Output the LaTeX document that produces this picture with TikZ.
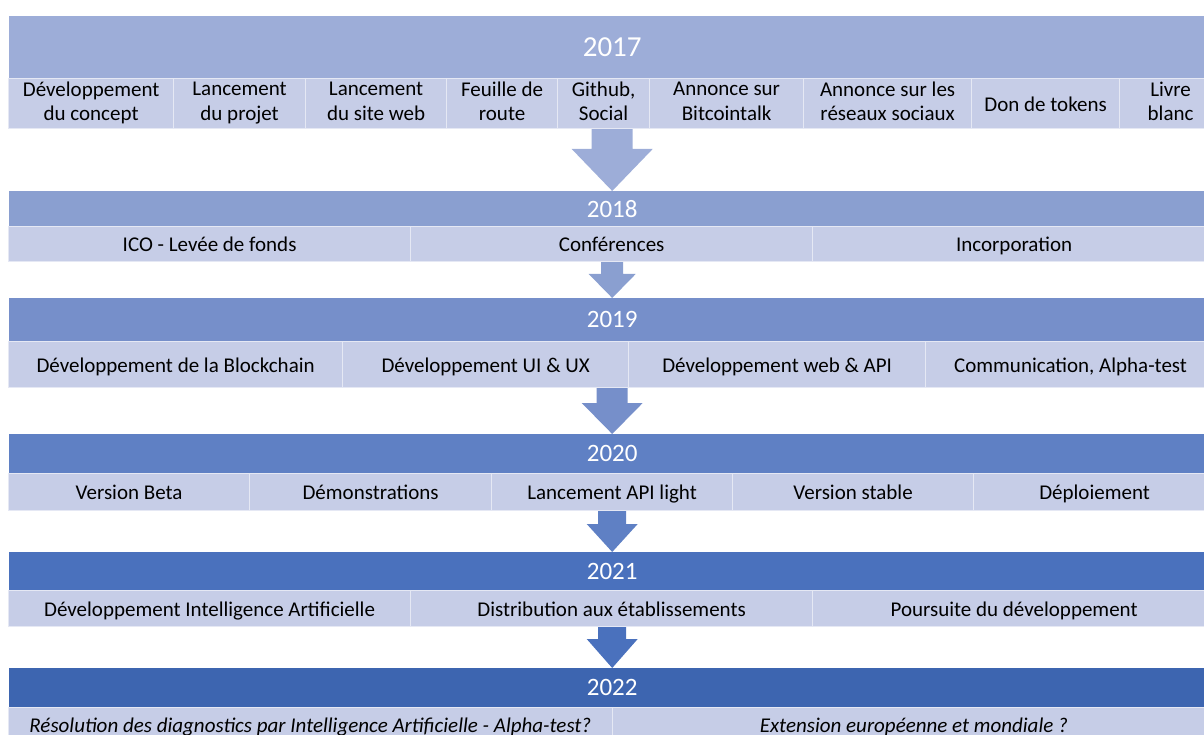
\documentclass[tikz,border=0pt]{standalone}
\usepackage{fontspec}
\setmainfont{Carlito}
\usetikzlibrary{calc}
\definecolor{yrA}{HTML}{9DADD8}
\definecolor{yrB}{HTML}{8A9FD0}
\definecolor{yrC}{HTML}{768FCA}
\definecolor{yrD}{HTML}{5F80C4}
\definecolor{yrE}{HTML}{4A71BD}
\definecolor{yrF}{HTML}{3D65B0}
\definecolor{cellC}{HTML}{C6CDE7}
\newcommand{\cellstrut}{\rule[-5pt]{0pt}{25pt}}
\newcommand{\blockarrow}[6]{%
\fill[#6] ($(#1)+(-#3,0)$) -- ($(#1)+(#3,0)$) -- ($(#2)+(#3,-#5)$) -- ($(#2)+(#4,-#5)$) -- (#2) -- ($(#2)+(-#4,-#5)$) -- ($(#2)+(-#3,-#5)$) -- cycle;}
\begin{document}
\begin{tikzpicture}[x=1pt, y=-1pt,
year/.style={anchor=north west, inner sep=0pt, minimum width=1206pt, text=white, font=\fontsize{25}{30}\selectfont},
cell/.style={anchor=north west, inner sep=0pt, fill=cellC, draw=white!55!cellC, line width=1.2pt, align=center, font=\fontsize{21}{24.5}\selectfont, execute at begin node={\cellstrut}, execute at end node={\cellstrut}}]
\useasboundingbox (0,0) rectangle (1204,735);
\node[year, fill=yrA, minimum height=62pt, font=\fontsize{29}{34}\selectfont] (h17) at (9,16) {2017};
\node[cell, minimum height=50pt, minimum width=165pt] (c17a) at (8,78) {Développement\\du concept};
\node[cell, minimum height=50pt, minimum width=132pt] (c17b) at (173,78) {Lancement\\du projet};
\node[cell, minimum height=50pt, minimum width=141pt] (c17c) at (305,78) {Lancement\\du site web};
\node[cell, minimum height=50pt, minimum width=111pt] (c17d) at (446,78) {Feuille de\\route};
\node[cell, minimum height=50pt, minimum width=92pt] (c17e) at (557,78) {Github,\\Social};
\node[cell, minimum height=50pt, minimum width=154pt] (c17f) at (649,78) {Annonce sur\\Bitcointalk};
\node[cell, minimum height=50pt, minimum width=168pt] (c17g) at (803,78) {Annonce sur les\\réseaux sociaux};
\node[cell, minimum height=50pt, minimum width=148pt] (c17h) at (971,78) {Don de tokens};
\node[cell, minimum height=50pt, minimum width=102pt] (c17i) at (1119,78) {Livre\\blanc};
\coordinate (s17) at (h17.south |- c17a.south);
\node[year, fill=yrB, minimum height=35pt] (h18) at (9,191) {2018};
\node[cell, minimum height=35pt, minimum width=402pt] (c18a) at (8,226) {ICO - Levée de fonds};
\node[cell, minimum height=35pt, minimum width=402pt] (c18b) at (410,226) {Conférences};
\node[cell, minimum height=35pt, minimum width=403pt] (c18c) at (812,226) {Incorporation};
\coordinate (s18) at (h18.south |- c18a.south);
\node[year, fill=yrC, minimum height=43pt] (h19) at (9,298) {2019};
\node[cell, minimum height=46pt, minimum width=334pt] (c19a) at (8,341) {Développement de la Blockchain};
\node[cell, minimum height=46pt, minimum width=286pt] (c19b) at (342,341) {Développement UI \& UX};
\node[cell, minimum height=46pt, minimum width=297pt] (c19c) at (628,341) {Développement web \& API};
\node[cell, minimum height=46pt, minimum width=290pt] (c19d) at (925,341) {Communication, Alpha-test};
\coordinate (s19) at (h19.south |- c19a.south);
\node[year, fill=yrD, minimum height=39pt] (h20) at (9,434) {2020};
\node[cell, minimum height=37pt, minimum width=241pt] (c20a) at (8,473) {Version Beta};
\node[cell, minimum height=37pt, minimum width=242pt] (c20b) at (249,473) {Démonstrations};
\node[cell, minimum height=37pt, minimum width=241pt] (c20c) at (491,473) {Lancement API light};
\node[cell, minimum height=37pt, minimum width=241pt] (c20d) at (732,473) {Version stable};
\node[cell, minimum height=37pt, minimum width=242pt] (c20e) at (973,473) {Déploiement};
\coordinate (s20) at (h20.south |- c20a.south);
\node[year, fill=yrE, minimum height=38pt] (h21) at (9,552) {2021};
\node[cell, minimum height=36pt, minimum width=402pt] (c21a) at (8,590) {Développement Intelligence Artificielle};
\node[cell, minimum height=36pt, minimum width=402pt] (c21b) at (410,590) {Distribution aux établissements};
\node[cell, minimum height=36pt, minimum width=403pt] (c21c) at (812,590) {Poursuite du développement};
\coordinate (s21) at (h21.south |- c21a.south);
\node[year, fill=yrF, minimum height=39pt] (h22) at (9,668) {2022};
\node[cell, minimum height=34pt, minimum width=603.5pt, font=\fontsize{21}{24.5}\selectfont\itshape] (c22a) at (8,707) {Résolution des diagnostics par Intelligence Artificielle - Alpha-test?};
\node[cell, minimum height=34pt, minimum width=603.5pt, font=\fontsize{21}{24.5}\selectfont\itshape] (c22b) at (611.5,707) {Extension européenne et mondiale ?};
\blockarrow{s17}{h18.north}{20.5}{40.5}{42}{yrA}
\blockarrow{s18}{h19.north}{11}{23.5}{24}{yrB}
\blockarrow{s19}{h20.north}{15.5}{30.5}{31}{yrC}
\blockarrow{s20}{h21.north}{14}{25.5}{28}{yrD}
\blockarrow{s21}{h22.north}{14}{25.5}{29}{yrE}
\end{tikzpicture}
\end{document}
